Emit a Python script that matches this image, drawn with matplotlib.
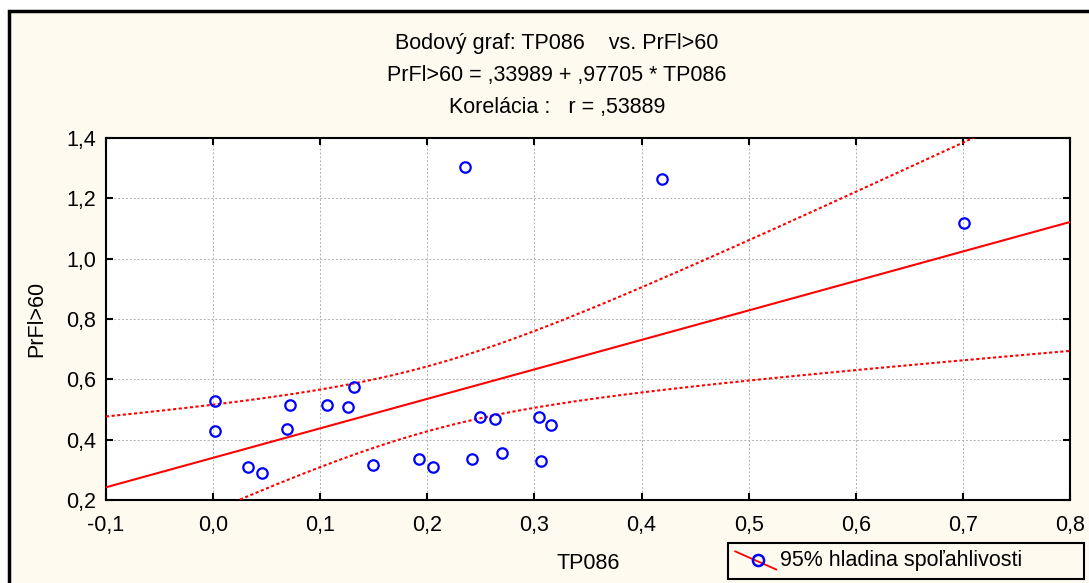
import numpy as np
import matplotlib.pyplot as plt
from matplotlib.lines import Line2D
from matplotlib.legend_handler import HandlerBase
from matplotlib.patches import Rectangle
from matplotlib.ticker import FuncFormatter, MultipleLocator

plt.rcParams['font.family'] = ['Liberation Sans', 'DejaVu Sans']

tp086 = np.array([0.002, 0.002, 0.033, 0.046, 0.069, 0.072, 0.106, 0.126, 0.132, 0.149,
                  0.192, 0.205, 0.235, 0.242, 0.249, 0.263, 0.270, 0.304, 0.315, 0.306,
                  0.419, 0.701])
prfl = np.array([0.528, 0.429, 0.309, 0.289, 0.435, 0.515, 0.515, 0.508, 0.575, 0.316,
                 0.336, 0.309, 1.304, 0.336, 0.475, 0.468, 0.356, 0.475, 0.449, 0.329,
                 1.264, 1.118])
b0, b1 = 0.33989, 0.97705
r_value = 0.53889
crit = 1.96  # 95% band multiplier

cream = '#fffaf0'
fs = 15.5

fig = plt.figure(figsize=(10.89, 5.83), dpi=100, facecolor='white')
fig.patches.append(Rectangle((8.5 / 1089, -0.05), 1.2, 1.05 - 11 / 583,
                             transform=fig.transFigure, facecolor=cream,
                             edgecolor='black', linewidth=2.5, zorder=-1))

ax = fig.add_axes([106 / 1089, 1 - 500 / 583, 964 / 1089, 362 / 583])
ax.set_facecolor('white')

# regression line and 95% band
xs = np.linspace(-0.1, 0.8, 200)
yhat = b0 + b1 * xs
n = len(tp086)
resid = prfl - (b0 + b1 * tp086)
s = np.sqrt(np.sum(resid ** 2) / (n - 2))
sxx = np.sum((tp086 - tp086.mean()) ** 2)
half = crit * s * np.sqrt(1 / n + (xs - tp086.mean()) ** 2 / sxx)

ax.plot(xs, yhat, color='#ff0000', lw=1.5, zorder=3)
ax.plot(xs, yhat + half, color='#ff0000', lw=1.5, ls=(0, (1.5, 1.2)), zorder=3)
ax.plot(xs, yhat - half, color='#ff0000', lw=1.5, ls=(0, (1.5, 1.2)), zorder=3)
ax.plot(tp086, prfl, 'o', mfc='none', mec='#0000ff', mew=1.6, ms=7.5, zorder=4)

ax.set_xlim(-0.1, 0.8)
ax.set_ylim(0.2, 1.4)
ax.xaxis.set_major_locator(MultipleLocator(0.1))
ax.yaxis.set_major_locator(MultipleLocator(0.2))
fmt = FuncFormatter(lambda v, p: f"{v:.1f}".replace('.', ','))
ax.xaxis.set_major_formatter(fmt)
ax.yaxis.set_major_formatter(fmt)
ax.grid(True, color='#b0b0b0', ls=(0, (2, 2)), lw=0.7)
ax.tick_params(direction='in', length=5, width=1.5, labelsize=fs,
               top=True, right=True)
ax.tick_params(axis='x', pad=11)
ax.tick_params(axis='y', pad=7)
for sp in ax.spines.values():
    sp.set_linewidth(1.5)

ax.set_xlabel('TP086', fontsize=fs, labelpad=12)
ax.set_ylabel('PrFl>60', fontsize=fs, labelpad=14)

cx = 557 / 1089
fig.text(cx, 1 - 43 / 583, 'Bodový graf: TP086    vs. PrFl>60', ha='center', va='center', fontsize=fs)
fig.text(cx, 1 - 75 / 583, f'PrFl>60 = ,{str(b0)[2:]} + ,{str(b1)[2:]} * TP086',
         ha='center', va='center', fontsize=fs)
fig.text(cx, 1 - 107 / 583, f'Korelácia :   r = ,{str(r_value)[2:]}',
         ha='center', va='center', fontsize=fs)


class DiagHandler(HandlerBase):
    def create_artists(self, legend, orig, xd, yd, w, h, fs, trans):
        line = Line2D([xd, xd + w], [yd + h * 1.0, yd - h * 0.2], color='#ff0000', lw=1.3,
                      transform=trans)
        mark = Line2D([xd + w * 0.55], [yd + h / 2 - 1], marker='o', mfc='none', mec='#0000ff',
                      mew=1.8, ms=8, transform=trans)
        return [line, mark]


handle = Line2D([], [])
leg = fig.legend([handle], ['95% hladina spoľahlivosti\u2003\u2003\u2002'],
                 handler_map={Line2D: DiagHandler()},
                 loc='lower right', bbox_to_anchor=(1084 / 1089, 1 - 579 / 583),
                 fontsize=fs, frameon=True, fancybox=False, edgecolor='black',
                 facecolor=cream, framealpha=1, borderpad=0.35, handlelength=1.9,
                 handletextpad=0.2, borderaxespad=0)
leg.get_frame().set_linewidth(1.5)

fig.savefig('out.png', dpi=100, facecolor=fig.get_facecolor())
